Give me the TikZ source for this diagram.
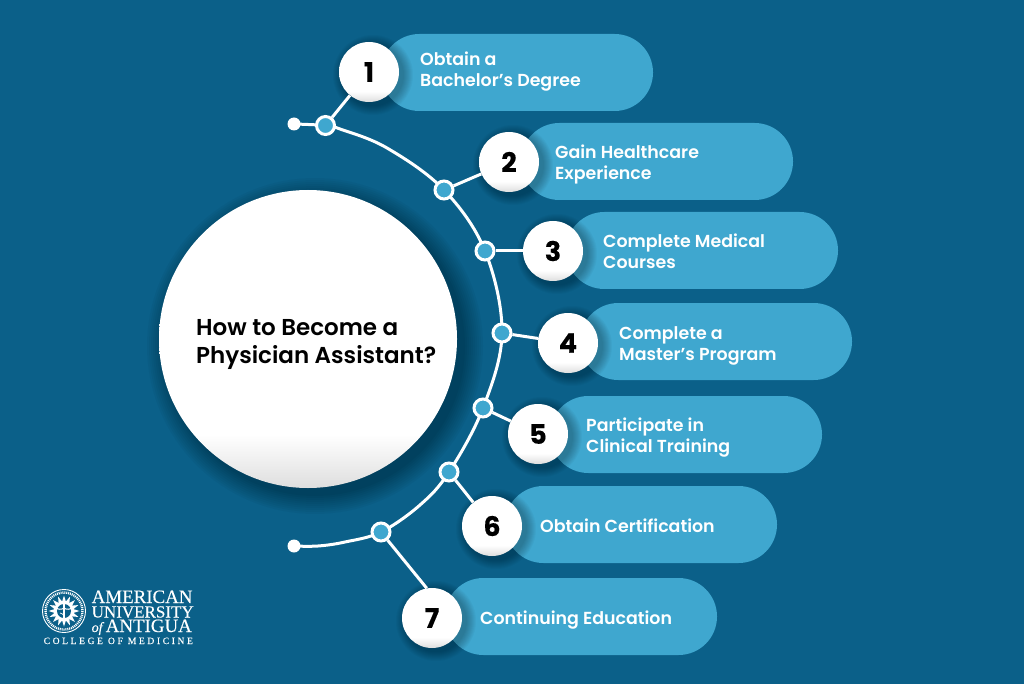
\documentclass[tikz,border=0pt]{standalone}
\usepackage{fontspec}
\usepackage{tikz}
\usetikzlibrary{shapes.geometric}
\setmainfont{Poppins}[BoldFont={Poppins SemiBold}]
\newfontfamily\numfont{Poppins}[FakeBold=0.3]
\newfontfamily\logofont{Liberation Serif}[FakeBold=0.35,ItalicFont={Liberation Serif Italic}]
\newfontfamily\logowide{Liberation Serif}[LetterSpace=27,FakeBold=0.2]
\definecolor{pagecol}{HTML}{0B6089}
\definecolor{pillcol}{HTML}{3FA7CF}
\pgfdeclareverticalshading{ballshade}{100bp}{color(0bp)=(black!13); color(25bp)=(black!13); color(29bp)=(black!7); color(34bp)=(white); color(100bp)=(white)}
\begin{document}
\begin{tikzpicture}[x=1pt,y=-1pt]
    \tikzstyle{pill}=[draw=none,fill=pillcol,minimum width=272pt,minimum height=77pt,rounded corners=38.4pt,inner sep=0pt]
    \tikzstyle{ball}=[circle,shading=ballshade,minimum size=60pt,inner sep=0pt,font=\numfont\fontsize{27}{27}\selectfont\bfseries,text=black]
    \tikzstyle{stop}=[circle,draw=white,line width=3pt,fill=pillcol,minimum size=18pt,inner sep=0pt]
    \tikzstyle{tip}=[circle,fill=white,minimum size=13pt,inner sep=0pt]
    \tikzstyle{label}=[anchor=west,align=left,text=white,inner sep=0pt,font=\fontsize{17.4}{21}\selectfont\bfseries]
    \tikzstyle{logotext}=[anchor=base west,inner sep=0pt,text=white]
    \tikzstyle{link}=[draw=white,line width=3pt]
    \useasboundingbox (0,0) rectangle (1024,684);
    \fill[pagecol] (0,0) rectangle (1024,684);
    % big circle
    \foreach \r in {150,152,...,168}
      \fill[black,opacity=0.03] (315,346) circle (\r);
    \node[circle,shading=ballshade,minimum size=298pt,inner sep=0pt] (hub) at (308,339) {};
    \node[anchor=west,align=left,text=black,inner sep=0pt,font=\fontsize{23}{28}\selectfont\bfseries] (title) at (196,344) {How to Become a\\Physician Assistant?};
    % pills
    \node[pill] (p1) at (517,72.5) {};
    \node[pill] (p2) at (657,161.5) {};
    \node[pill] (p3) at (702,250.5) {};
    \node[pill] (p4) at (716,341.5) {};
    \node[pill] (p5) at (686,434.5) {};
    \node[pill] (p6) at (641,524.5) {};
    \node[pill] (p7) at (581,616.5) {};
    % curve
    \coordinate (e1) at (294,124);
    \coordinate (e2) at (294,546);
    \coordinate (s1) at (325.5,125.5);
    \coordinate (s2) at (444,190);
    \coordinate (s3) at (485,251);
    \coordinate (s4) at (502,333);
    \coordinate (s5) at (483,408);
    \coordinate (s6) at (449,472);
    \coordinate (s7) at (381,532);
    \draw[link,line cap=round] plot[smooth,tension=0.6] coordinates {(e1) (s1) (340,129) (387,148) (s2) (s3) (s4) (s5) (s6) (420,505) (s7) (345,542) (318,546) (e2)};
    % shadows
    \foreach \cx/\cy in {369/72,509/162,553/251,568/343,538/434,492/526,432/618}
      \foreach \r in {31,32,...,40}
        \fill[black,opacity=0.028] (\cx+4,\cy+3) circle (\r);
    % nodes
    \node[tip] (t1) at (e1) {};
    \node[tip] (t2) at (e2) {};
    \node[stop] (j1) at (s1) {};
    \node[stop] (j2) at (s2) {};
    \node[stop] (j3) at (s3) {};
    \node[stop] (j4) at (s4) {};
    \node[stop] (j5) at (s5) {};
    \node[stop] (j6) at (s6) {};
    \node[stop] (j7) at (s7) {};
    \node[ball] (c1) at (369,72) {1};
    \node[ball] (c2) at (509,162) {2};
    \node[ball] (c3) at (553,251) {3};
    \node[ball] (c4) at (568,343) {4};
    \node[ball] (c5) at (538,434) {5};
    \node[ball] (c6) at (492,526) {6};
    \node[ball] (c7) at (432,618) {7};
    \draw[link] (j1) -- (c1);
    \draw[link] (j2) -- (c2);
    \draw[link] (j3) -- (c3);
    \draw[link] (j4) -- (c4);
    \draw[link] (j5) -- (c5);
    \draw[link] (j6) -- (c6);
    \draw[link] (j7) -- (c7.100);
    % labels
    \node[label] (l1) at (420,72) {Obtain a\\Bachelor’s Degree};
    \node[label] (l2) at (555,164) {Gain Healthcare\\Experience};
    \node[label] (l3) at (603,251.5) {Complete Medical\\Courses};
    \node[label] (l4) at (619,346) {Complete a\\Master’s Program};
    \node[label] (l5) at (586,438) {Participate in\\Clinical Training};
    \node[label] (l6) at (540,525.5) {Obtain Certification};
    \node[label] (l7) at (480,620) {Continuing Education};
    % logo
    \draw[white,line width=0.9pt] (64,611) circle (21.5);
    \draw[white,line width=2.4pt,dash pattern=on 1pt off 0.9pt] (64,611) circle (18.5);
    \node[star,star points=16,star point ratio=1.6,fill=white,minimum size=31pt,inner sep=0pt] (rays) at (64,611) {};
    \fill[pagecol] (64,611) circle (7);
    \draw[white,line width=1.1pt] (64,599) -- (64,624);
    \draw[white,line width=1pt] (53,606) .. controls (58,610) and (61,610) .. (64,608) .. controls (67,610) and (70,610) .. (75,606);
    \draw[white,line width=0.7pt] (60,613) .. controls (67,615) and (61,618) .. (66,620);
    \node[logotext,font=\logofont\fontsize{18.9}{19}\selectfont] (uni1) at (91.5,603) {AMERICAN};
    \node[logotext,font=\logofont\fontsize{17}{17}\selectfont] (uni2) at (91.5,617.5) {UNIVERSITY};
    \node[logotext,font=\logofont\fontsize{18.9}{19}\selectfont] (uni3) at (91.5,632) {{\itshape\fontsize{14}{14}\selectfont of}\,ANTIGUA};
    \node[logotext,font=\logowide\fontsize{9.6}{10}\selectfont] (uni4) at (43.5,644) {COLLEGE OF MEDICINE};
\end{tikzpicture}
\end{document}
